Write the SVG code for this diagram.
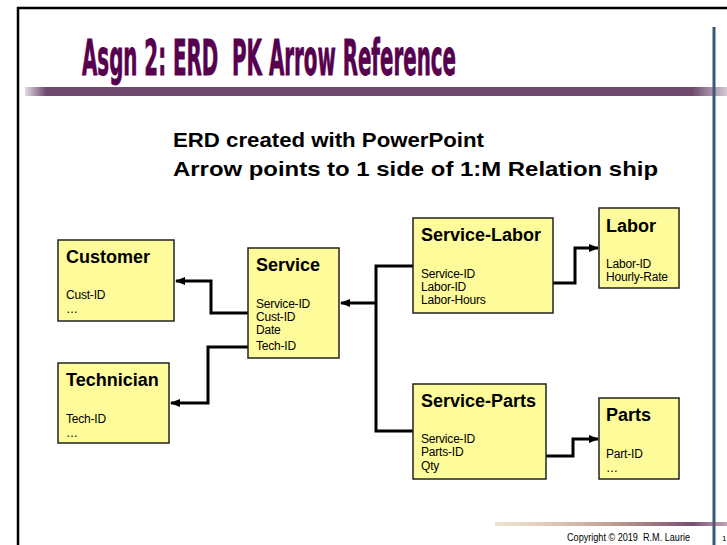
<svg xmlns="http://www.w3.org/2000/svg" width="727" height="545" viewBox="0 0 727 545">
<style>
.box{fill:#fdfb9a;stroke:#222;stroke-width:1.5}
.ttl{font-family:"Liberation Sans",Arial,sans-serif;font-weight:bold;font-size:18px;fill:#000}
.att{font-family:"Liberation Sans",Arial,sans-serif;font-size:12px;fill:#000;letter-spacing:-0.2px}
.con{fill:none;stroke:#000;stroke-width:3;stroke-linejoin:miter}
.sub{font-family:"Liberation Sans",Arial,sans-serif;font-weight:bold;font-size:21px;fill:#000}
</style>
<defs>
<marker id="ah" markerWidth="10" markerHeight="8" refX="9" refY="4" orient="auto" markerUnits="userSpaceOnUse">
<path d="M0,0 L10,4 L0,8 z" fill="#000"/>
</marker>
<linearGradient id="tb" x1="0" x2="1" y1="0" y2="0">
<stop offset="0" stop-color="#6e4a6e" stop-opacity="0.2"/>
<stop offset="0.03" stop-color="#6e4a6e" stop-opacity="1"/>
<stop offset="0.95" stop-color="#6e4a6e" stop-opacity="1"/>
<stop offset="1" stop-color="#6e4a6e" stop-opacity="0.3"/>
</linearGradient>
<linearGradient id="bb" x1="0" x2="1" y1="0" y2="0">
<stop offset="0" stop-color="#e0c8a8" stop-opacity="0.5"/>
<stop offset="0.5" stop-color="#c0a090"/>
<stop offset="0.85" stop-color="#7a4e72"/>
<stop offset="1" stop-color="#7a4e72" stop-opacity="0.5"/>
</linearGradient>
</defs>
<rect width="727" height="545" fill="#fff"/>
<!-- frame -->
<path d="M18,545 V8 H727" fill="none" stroke="#000" stroke-width="2.5"/>
<rect x="25" y="87" width="702" height="9" fill="url(#tb)"/>
<line x1="714" y1="27" x2="714" y2="545" stroke="#3d5872" stroke-width="3"/>
<rect x="495" y="522" width="232" height="4" fill="url(#bb)"/>
<text x="82" y="75" xml:space="preserve" font-family="'DejaVu Sans Condensed','DejaVu Sans',sans-serif" font-weight="bold" font-size="49" fill="#56004e" stroke="#56004e" stroke-width="0.8" textLength="374" lengthAdjust="spacingAndGlyphs">Asgn 2: ERD  PK Arrow Reference</text>
<text x="173" y="147" class="sub" textLength="311" lengthAdjust="spacingAndGlyphs">ERD created with PowerPoint</text>
<text x="173" y="176" class="sub" textLength="485" lengthAdjust="spacingAndGlyphs">Arrow points to 1 side of 1:M Relation ship</text>
<text x="567" y="541" xml:space="preserve" font-family="'Liberation Sans',Arial,sans-serif" font-size="10" fill="#000" textLength="123" lengthAdjust="spacingAndGlyphs">Copyright © 2019  R.M. Laurie</text>
<text x="722" y="541" font-family="'Liberation Sans',Arial,sans-serif" font-size="8" fill="#000">1</text>
<!-- connectors -->
<g id="connectors">
<path class="con" d="M248,313 H211 V281 H176" marker-end="url(#ah)"/>
<path class="con" d="M248,347 H208 V403 H171" marker-end="url(#ah)"/>
<path class="con" d="M413,266 H376 V431 H413"/>
<path class="con" d="M376,303 H341" marker-end="url(#ah)"/>
<path class="con" d="M553,283 H575 V248 H598" marker-end="url(#ah)"/>
<path class="con" d="M546,456 H573 V439 H598" marker-end="url(#ah)"/>
</g>
<g id="customer">
<rect class="box" x="58" y="240" width="116" height="81"/>
<text class="ttl" x="66" y="263">Customer</text>
<text class="att" x="66" y="299">Cust-ID</text>
<text class="att" x="66" y="313">…</text>
</g>
<g id="technician">
<rect class="box" x="58" y="363" width="111" height="80"/>
<text class="ttl" x="66" y="386">Technician</text>
<text class="att" x="66" y="423">Tech-ID</text>
<text class="att" x="66" y="437">…</text>
</g>
<g id="service">
<rect class="box" x="248" y="248" width="91" height="110"/>
<text class="ttl" x="256" y="271">Service</text>
<text class="att" x="256" y="308">Service-ID</text>
<text class="att" x="256" y="321">Cust-ID</text>
<text class="att" x="256" y="334">Date</text>
<text class="att" x="256" y="350">Tech-ID</text>
</g>
<g id="service-labor">
<rect class="box" x="413" y="218" width="140" height="95"/>
<text class="ttl" x="421" y="241">Service-Labor</text>
<text class="att" x="421" y="278">Service-ID</text>
<text class="att" x="421" y="291">Labor-ID</text>
<text class="att" x="421" y="304">Labor-Hours</text>
</g>
<g id="labor">
<rect class="box" x="599" y="208" width="80" height="80"/>
<text class="ttl" x="606" y="232">Labor</text>
<text class="att" x="606" y="268">Labor-ID</text>
<text class="att" x="606" y="281">Hourly-Rate</text>
</g>
<g id="service-parts">
<rect class="box" x="413" y="384" width="133" height="95"/>
<text class="ttl" x="421" y="407">Service-Parts</text>
<text class="att" x="421" y="443">Service-ID</text>
<text class="att" x="421" y="456">Parts-ID</text>
<text class="att" x="421" y="470">Qty</text>
</g>
<g id="parts">
<rect class="box" x="599" y="398" width="80" height="81"/>
<text class="ttl" x="606" y="421">Parts</text>
<text class="att" x="606" y="458">Part-ID</text>
<text class="att" x="606" y="472">…</text>
</g>
</svg>
